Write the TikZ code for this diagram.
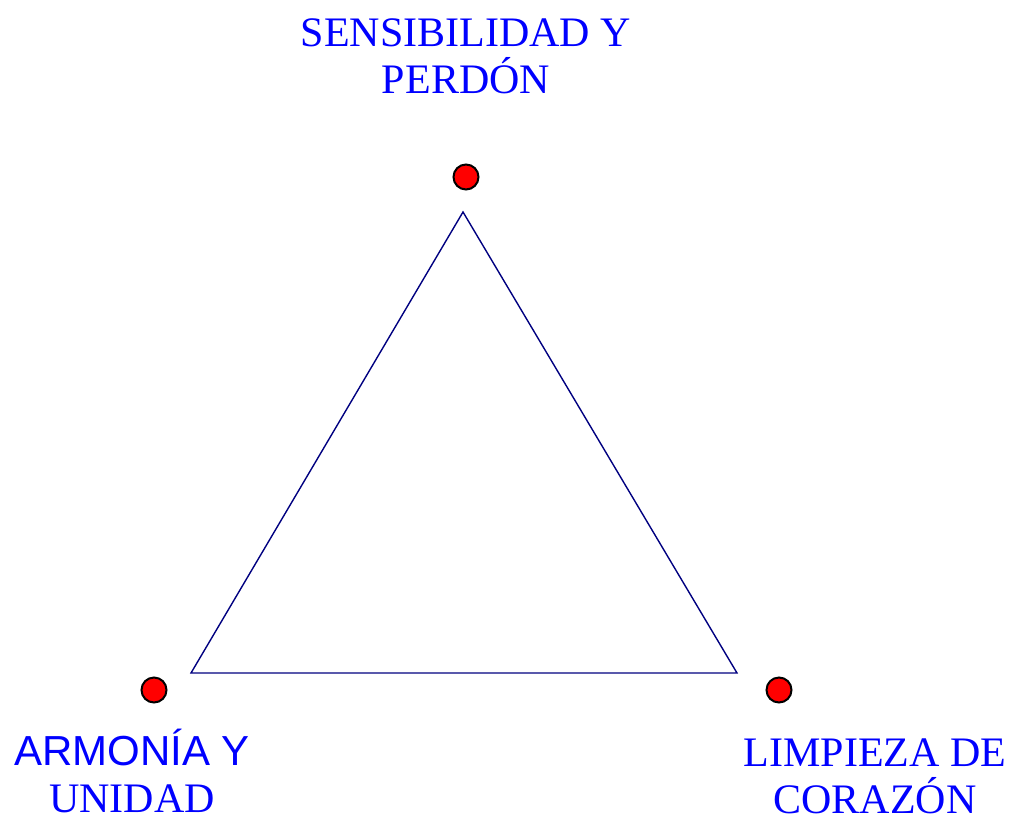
\documentclass[tikz,border=0pt]{standalone}
\usepackage{fontspec}
\setmainfont{Liberation Serif}
\newfontfamily\arialfont{Liberation Sans}
\definecolor{azultriangulo}{RGB}{0,0,128}

\begin{document}
\begin{tikzpicture}[x=0.5pt, y=-0.5pt,
    punto/.style={circle, draw=black, fill=red, line width=1pt, minimum size=12.5pt, inner sep=0pt},
    etiqueta/.style={text=blue, font=\fontsize{21}{23.5}\selectfont, align=center, inner sep=0pt}]
        \useasboundingbox (0,0) rectangle (1010,814);
        % Vertices
        \coordinate (A) at (463,212);
        \coordinate (B) at (191,673);
        \coordinate (C) at (737,673);
        % Triangle
        \draw [azultriangulo, line width=0.7pt] (A) -- (B) -- (C) -- cycle;
        % Points
        \node [punto] (pA) at (466,177) {};
        \node [punto] (pB) at (154,690) {};
        \node [punto] (pC) at (779,690) {};
        % Labels (base = last line)
        \node [etiqueta, anchor=base] (lA) at (466,93) {SENSIBILIDAD Y\\PERDÓN};
        \node [etiqueta, anchor=base] (lB) at (132,812) {{\arialfont ARMONÍA Y}\\UNIDAD};
        \node [etiqueta, anchor=base] (lC) at (875,813) {LIMPIEZA DE\\CORAZÓN};
\end{tikzpicture}
\end{document}
